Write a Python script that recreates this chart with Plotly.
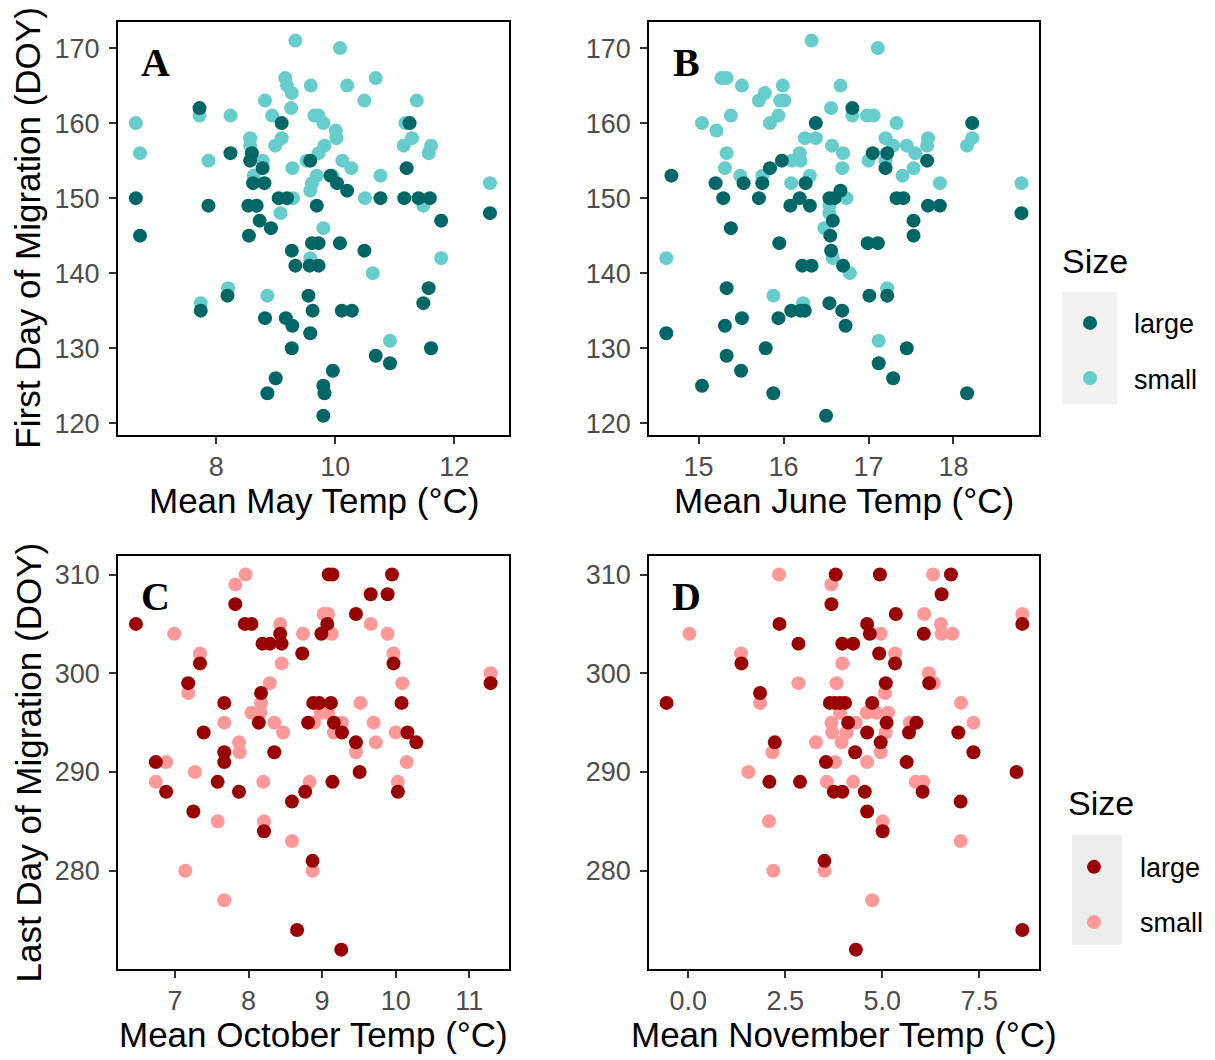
import plotly.graph_objects as go

# ---- data: first day of migration (spring) vs mean monthly temperature ----
may_temp_large = [7.72, 9.10, 11.25, 8.24, 8.60, 8.57, 8.78, 9.58, 11.20, 8.62, 8.81, 9.92, 10.03, 10.20,
                  6.65, 7.87, 8.54, 8.68, 9.05, 9.19, 9.69, 10.76, 11.16, 11.40, 11.59, 11.78, 8.73, 8.92,
                  6.72, 8.55, 9.27, 9.61, 9.72, 10.08, 10.49, 9.33, 9.57, 9.72, 11.57, 11.48, 8.19, 7.74,
                  9.55, 9.62, 10.11, 10.28, 8.82, 9.17, 9.28, 9.58, 9.27, 11.61, 10.68, 10.92, 9.96, 9.00,
                  8.86, 9.80, 9.82, 9.80, 12.60]
may_first_large = [162, 160, 160, 156, 156, 155, 154, 155, 154, 152, 152, 153, 152, 151,
                   150, 149, 149, 149, 150, 150, 149, 150, 150, 150, 150, 147, 147, 146,
                   145, 145, 143, 144, 144, 144, 143, 141, 141, 141, 138, 136, 137, 135,
                   137, 135, 135, 135, 134, 134, 133, 132, 130, 130, 129, 128, 127, 126,
                   124, 125, 124, 121, 148]
may_temp_small = [9.33, 10.08, 9.16, 9.19, 9.27, 9.59, 10.20, 10.68, 8.82, 9.26, 10.49, 11.37, 7.72, 8.24,
                  8.94, 9.65, 9.72, 9.80, 6.65, 10.01, 10.02, 11.18, 8.57, 8.57, 9.10, 8.99, 11.29, 11.15,
                  11.61, 11.57, 6.72, 9.82, 9.72, 7.87, 8.78, 9.52, 10.12, 10.27, 9.28, 8.63, 9.69, 9.61,
                  9.58, 10.76, 9.95, 9.29, 10.50, 11.48, 9.08, 9.80, 11.78, 9.58, 10.63, 8.20, 8.86, 7.74,
                  10.92, 12.60]
may_first_small = [171, 170, 166, 165, 164, 165, 165, 166, 163, 162, 163, 163, 161, 161,
                   161, 161, 161, 160, 160, 159, 158, 160, 158, 157, 158, 157, 158, 157,
                   157, 156, 156, 157, 156, 155, 155, 155, 155, 154, 154, 153, 153, 152,
                   151, 153, 153, 150, 150, 149, 148, 146, 142, 142, 140, 138, 137, 136,
                   131, 152]

june_temp_large = [16.81, 16.38, 18.22, 15.98, 15.84, 17.05, 17.22, 17.20, 17.69, 14.68, 15.20, 15.53, 15.75,
                   16.26, 15.29, 15.71, 16.19, 16.08, 16.31, 16.54, 16.60, 16.67, 17.33, 17.41, 17.70, 17.84,
                   18.80, 16.58, 17.53, 15.38, 16.55, 17.53, 15.95, 16.99, 17.11, 16.56, 16.22, 16.33, 16.70,
                   15.33, 17.01, 17.22, 16.09, 16.20, 16.25, 16.54, 16.69, 16.73, 15.51, 15.94, 15.31, 14.62,
                   15.79, 17.45, 15.33, 17.12, 15.50, 17.29, 15.04, 15.88, 18.16, 16.50]
june_first_large = [162, 160, 160, 155, 154, 156, 156, 154, 155, 153, 152, 152, 152,
                    152, 150, 150, 150, 149, 149, 150, 150, 151, 150, 150, 149, 149,
                    148, 147, 147, 146, 145, 145, 144, 144, 144, 143, 141, 141, 141,
                    138, 137, 137, 135, 135, 135, 136, 135, 133, 134, 134, 133, 132,
                    130, 130, 129, 128, 127, 126, 125, 124, 124, 121]
june_temp_small = [16.33, 17.11, 15.27, 15.33, 15.51, 15.99, 16.67, 15.78, 15.71, 15.96, 16.01, 16.56, 15.38,
                   15.94, 15.84, 16.81, 16.98, 17.06, 15.04, 15.21, 17.33, 16.25, 16.38, 17.20, 17.29, 17.70,
                   17.69, 18.22, 18.16, 16.57, 16.70, 17.45, 17.55, 15.33, 15.31, 16.19, 16.10, 16.20, 16.69,
                   17.00, 17.20, 17.53, 17.40, 15.49, 15.75, 16.31, 16.09, 17.84, 18.80, 16.74, 16.54, 16.54,
                   16.48, 14.62, 16.58, 16.78, 17.22, 15.88, 16.23, 17.12]
june_first_small = [171, 170, 166, 166, 165, 165, 165, 164, 163, 163, 163, 162, 161,
                    161, 160, 161, 161, 161, 160, 159, 160, 158, 158, 158, 157, 158,
                    157, 158, 157, 157, 156, 157, 156, 156, 154, 156, 155, 155, 154,
                    155, 155, 154, 153, 153, 153, 153, 152, 152, 152, 150, 149, 148,
                    146, 142, 142, 140, 138, 137, 136, 131]

# ---- data: last day of migration (autumn) vs mean monthly temperature ----
oct_temp_large = [9.09, 9.14, 9.95, 9.66, 9.89, 7.82, 9.46, 6.47, 7.95, 8.04, 9.07, 8.43, 8.99, 8.19,
                  8.29, 8.45, 8.73, 9.97, 7.34, 11.29, 7.18, 8.17, 7.67, 8.88, 8.96, 9.12, 10.08, 8.14,
                  8.81, 9.16, 9.27, 7.39, 10.16, 9.46, 10.28, 7.67, 7.67, 8.35, 6.74, 9.51, 7.58, 9.14,
                  6.88, 7.87, 8.77, 10.03, 8.59, 7.25, 8.21, 8.87, 8.66, 9.26]
oct_last_large = [310, 310, 310, 308, 308, 307, 306, 305, 305, 305, 305, 304, 304, 303,
                  303, 303, 302, 301, 301, 299, 299, 298, 297, 297, 297, 297, 297, 295,
                  295, 295, 294, 294, 294, 293, 293, 292, 291, 292, 291, 290, 289, 289,
                  288, 288, 288, 288, 287, 286, 284, 281, 274, 272]
oct_temp_small = [7.96, 7.82, 9.02, 9.08, 8.43, 9.66, 6.99, 8.74, 9.13, 9.89, 7.34, 9.97, 8.45, 11.29,
                  8.29, 10.09, 7.18, 8.17, 8.04, 8.16, 9.52, 8.98, 9.08, 7.67, 8.35, 8.89, 9.27, 9.70,
                  8.47, 9.16, 10.00, 7.87, 7.88, 9.73, 9.46, 6.88, 10.15, 7.27, 6.74, 8.20, 8.83, 10.03,
                  7.58, 8.21, 8.59, 8.87, 7.14, 7.67]
oct_last_small = [310, 309, 306, 306, 305, 305, 304, 304, 304, 304, 302, 302, 301, 300,
                  299, 299, 298, 297, 296, 296, 297, 296, 296, 295, 295, 295, 295, 295,
                  294, 294, 294, 293, 292, 293, 292, 291, 291, 290, 289, 289, 289, 289,
                  285, 285, 283, 280, 280, 277]

nov_temp_large = [3.80, 4.94, 6.77, 6.53, 3.69, 5.35, 2.35, 4.61, 4.68, 6.07, 8.61, 2.84, 3.97, 4.25,
                  4.92, 1.37, 5.33, 5.09, 6.21, 1.85, -0.56, 3.65, 3.78, 3.91, 4.04, 4.74, 4.12, 5.11,
                  5.88, 4.61, 5.69, 6.96, 2.23, 4.96, 7.35, 4.30, 3.55, 5.63, 8.46, 2.09, 2.88, 3.75,
                  3.97, 4.55, 6.04, 7.02, 4.61, 5.01, 3.51, 8.61, 4.32]
nov_last_large = [310, 310, 310, 308, 307, 306, 305, 305, 304, 304, 305, 303, 303, 303,
                  302, 301, 301, 299, 299, 298, 297, 297, 297, 297, 297, 297, 295, 295,
                  295, 294, 294, 294, 293, 293, 292, 292, 291, 291, 290, 289, 289, 288,
                  288, 288, 288, 287, 286, 284, 281, 274, 272]
nov_temp_small = [2.34, 6.31, 3.69, 6.08, 8.61, 0.03, 4.96, 6.51, 6.53, 6.81, 1.36, 5.33, 3.97, 6.20,
                  2.84, 3.82, 6.33, 5.07, 1.85, 7.03, 3.91, 4.60, 4.85, 5.15, 3.69, 4.32, 5.71, 5.84,
                  7.35, 3.71, 4.08, 5.09, 3.29, 3.95, 2.17, 4.96, 3.78, 4.61, 1.55, 3.57, 4.25, 5.86,
                  6.06, 2.08, 5.01, 7.02, 2.19, 3.51, 4.74]
nov_last_small = [310, 310, 309, 306, 306, 304, 304, 305, 304, 304, 302, 302, 301, 300,
                  299, 299, 299, 298, 297, 297, 296, 296, 296, 296, 295, 295, 295, 295,
                  295, 294, 294, 294, 293, 293, 292, 292, 291, 291, 290, 289, 289, 289,
                  289, 285, 285, 283, 280, 280, 277]

size_labels = ["large", "small"]
panel_letters = ["A", "B", "C", "D"]
x_titles = ["Mean May Temp (°C)", "Mean June Temp (°C)",
            "Mean October Temp (°C)", "Mean November Temp (°C)"]
y_titles = ["First Day of Migration (DOY)", "Last Day of Migration (DOY)"]
legend_title = "Size"

spring_colors = {"large": "#006666", "small": "#66CDCC"}
autumn_colors = {"large": "#990000", "small": "#FF9999"}

W, H = 1215, 1060
SANS = "Liberation Sans, Arial, Helvetica, sans-serif"
SERIF = "Liberation Serif, Times New Roman, serif"


def px_x(p):
    return p / W


def px_y(p):
    return 1 - p / H


fig = go.Figure()

panels = [
    # (x, y) per size, axis suffix, colors, legend id, show in legend
    ((may_temp_large, may_first_large), (may_temp_small, may_first_small), "", spring_colors, "legend", True),
    ((june_temp_large, june_first_large), (june_temp_small, june_first_small), "2", spring_colors, "legend", False),
    ((oct_temp_large, oct_last_large), (oct_temp_small, oct_last_small), "3", autumn_colors, "legend2", True),
    ((nov_temp_large, nov_last_large), (nov_temp_small, nov_last_small), "4", autumn_colors, "legend2", False),
]

for large, small, ax, colors, leg, show in panels:
    for label, (xs, ys), rank in (("small", small, 2), ("large", large, 1)):
        fig.add_trace(go.Scatter(
            x=xs, y=ys, mode="markers", name=label,
            marker=dict(size=14, color=colors[label], line=dict(width=0)),
            xaxis="x" + ax, yaxis="y" + ax,
            legend=leg, showlegend=show, legendgroup=leg + label, legendrank=rank,
        ))

# panel frames in pixel coordinates: (left, right, top, bottom)
frames = [(118, 509, 22.3, 436.7), (649.3, 1039.3, 22.3, 436.7),
          (118.3, 509, 558.3, 972.3), (649.3, 1039, 558.3, 972.3)]
x_ranges = [[6.35, 12.92], [14.42, 19.01], [6.23, 11.54], [-1.005, 9.04]]
y_ranges = [[118.42, 173.45], [118.42, 173.45], [270.08, 311.86], [270.08, 311.86]]
x_ticks = [[8, 10, 12], [15, 16, 17, 18], [7, 8, 9, 10, 11], [0, 2.5, 5, 7.5]]
y_ticks = [[120, 130, 140, 150, 160, 170]] * 2 + [[280, 290, 300, 310]] * 2

axis_common = dict(
    showline=True, linecolor="black", linewidth=2, mirror=True,
    ticks="outside", ticklen=7, tickwidth=2, tickcolor="#333333",
    tickfont=dict(family=SANS, size=27, color="#4D4D4D"),
    showgrid=False, zeroline=False,
)

layout = {}
for i, ((l, r, t, b), xr, yr, xt, yt) in enumerate(zip(frames, x_ranges, y_ranges, x_ticks, y_ticks)):
    s = "" if i == 0 else str(i + 1)
    xa = dict(axis_common, domain=[px_x(l), px_x(r)], range=xr, tickvals=xt,
              anchor="y" + s)
    if i == 3:
        xa["tickformat"] = ".1f"
    ya = dict(axis_common, domain=[px_y(b), px_y(t)], range=yr, tickvals=yt,
              anchor="x" + s, ticklabelstandoff=4)
    layout["xaxis" + s] = xa
    layout["yaxis" + s] = ya


def label(x, y, text, size, family=SANS, angle=0, xanchor="center"):
    return dict(x=px_x(x), y=px_y(y), xref="paper", yref="paper", text=text,
                textangle=angle, showarrow=False, xanchor=xanchor, yanchor="middle",
                font=dict(family=family, size=size, color="black"))


annotations = []
# panel letters
for (l, r, t, b), letter in zip(frames, panel_letters):
    annotations.append(label(l + 37, t + 40, "<b>%s</b>" % letter, 40, family=SERIF))
# x-axis titles
for (l, r, t, b), title in zip(frames, x_titles):
    annotations.append(label((l + r) / 2, b + 66, title, 35))
# y-axis titles
for (l, r, t, b), title in zip([frames[0], frames[2]], y_titles):
    annotations.append(label(28, (t + b) / 2, title, 35, angle=-90))
# legend titles
annotations.append(label(1060, 262, legend_title, 34, xanchor="left"))
annotations.append(label(1066, 806, legend_title, 34, xanchor="left"))

# grey backgrounds behind the legend keys
shapes = [
    dict(type="rect", xref="paper", yref="paper", layer="below",
         x0=px_x(1062), x1=px_x(1117), y0=px_y(406), y1=px_y(293),
         fillcolor="#F2F2F2", line=dict(width=0)),
    dict(type="rect", xref="paper", yref="paper", layer="below",
         x0=px_x(1072), x1=px_x(1122), y0=px_y(948), y1=px_y(838),
         fillcolor="#EDEDED", line=dict(width=0)),
]

legend_common = dict(
    xanchor="left", yanchor="top", bgcolor="rgba(0,0,0,0)", borderwidth=0,
    font=dict(family=SANS, size=27, color="black"),
    tracegroupgap=17, itemsizing="trace",
)

fig.update_layout(
    width=W, height=H, margin=dict(l=0, r=0, t=0, b=0),
    paper_bgcolor="white", plot_bgcolor="white",
    annotations=annotations, shapes=shapes,
    legend=dict(legend_common, x=px_x(1046), y=px_y(300), itemwidth=78),
    legend2=dict(legend_common, x=px_x(1048), y=px_y(846), itemwidth=82),
    **layout,
)

fig.write_html("out.html")
